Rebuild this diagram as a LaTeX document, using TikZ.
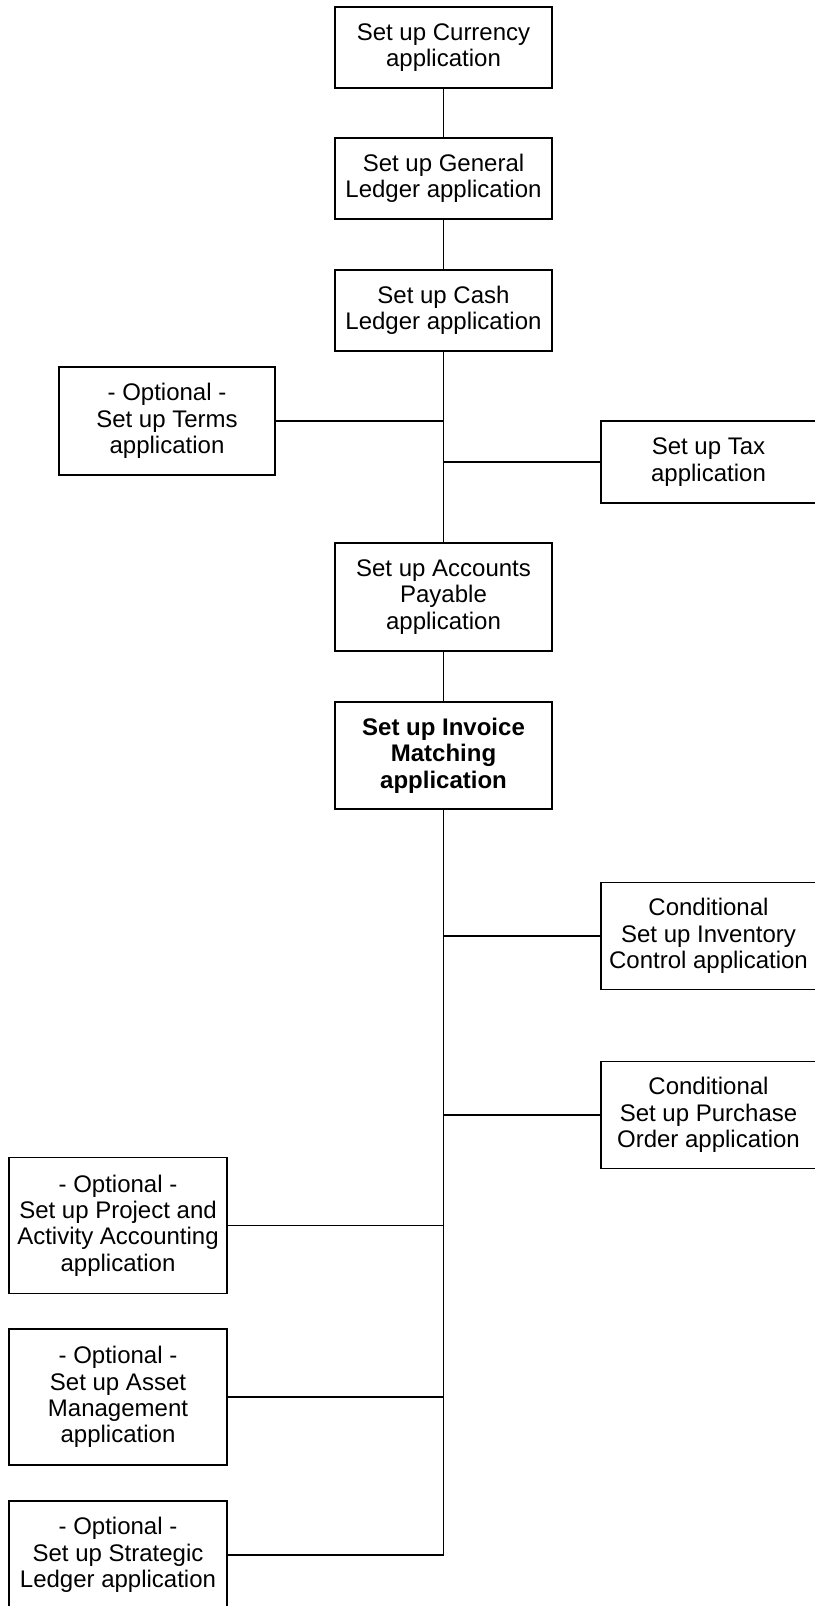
\documentclass[tikz,border=0pt]{standalone}
\usepackage{fontspec}
\setmainfont{Liberation Sans}
\begin{document}
\begin{tikzpicture}[x=0.75pt,y=-0.75pt,
  stepbox/.style 2 args={draw=black, line width=0.8pt, inner sep=0pt,
    align=center, font=\fontsize{18pt}{19.8pt}\selectfont,
    minimum width=#1*0.75pt, minimum height=#2*0.75pt},
  link/.style={draw=black, line width=0.8pt}]
\useasboundingbox (0,0) rectangle (814,1606);

% main chain
\node[stepbox={217}{81}]  (cur)  at (443.5,47.5)  {Set up Currency\\application};
\node[stepbox={217}{81}]  (gl)   at (443.5,178.5) {Set up General\\Ledger application};
\node[stepbox={217}{81}]  (cash) at (443.5,310.5) {Set up Cash\\Ledger application};
\node[stepbox={217}{108}] (ap)   at (443.5,597)   {Set up Accounts\\Payable\\application};
\node[stepbox={217}{107}, font=\fontsize{18pt}{19.8pt}\selectfont\bfseries]
                          (inv)  at (443.5,755.5) {Set up Invoice\\Matching\\application};

% side branches
\node[stepbox={216}{108}] (terms) at (167,421)    {- Optional -\\Set up Terms\\application};
\node[stepbox={215}{82}]  (tax)   at (708.5,462)  {Set up Tax\\application};
\node[stepbox={215}{107}] (invc)  at (708.5,936)  {Conditional\\Set up Inventory\\Control application};
\node[stepbox={215}{107}] (po)    at (708.5,1115) {Conditional\\Set up Purchase\\Order application};
\node[stepbox={218}{136}] (proj)  at (118,1225.5) {- Optional -\\Set up Project and\\Activity Accounting\\application};
\node[stepbox={218}{136}] (asset) at (118,1397)   {- Optional -\\Set up Asset\\Management\\application};
\node[stepbox={218}{108}] (strat) at (118,1555)   {- Optional -\\Set up Strategic\\Ledger application};

% connectors
\path[link] (cur) -- (gl);
\path[link] (gl) -- (cash);
\path[link] (cash) -- (ap);
\path[link] (terms.east) -- (terms.east -| cash.south);
\path[link] (tax.west) -- (tax.west -| cash.south);
\path[link] (ap) -- (inv);
\path[link] (inv.south) |- (strat.east);
\path[link] (invc.west) -- (invc.west -| inv.south);
\path[link] (po.west) -- (po.west -| inv.south);
\path[link] (proj.east) -- (proj.east -| inv.south);
\path[link] (asset.east) -- (asset.east -| inv.south);
\end{tikzpicture}
\end{document}
